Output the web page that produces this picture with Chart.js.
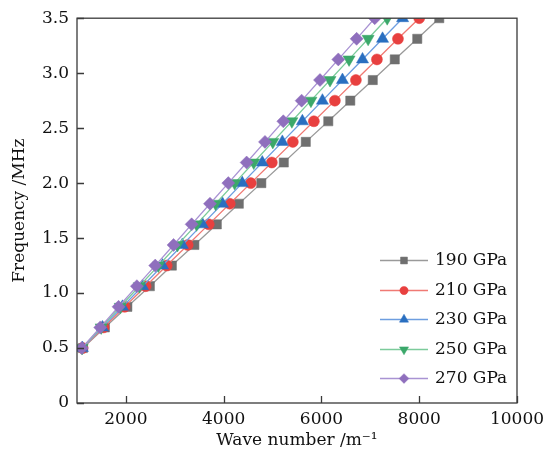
<!DOCTYPE html>
<html>
<head>
<meta charset="utf-8">
<script src="https://cdn.jsdelivr.net/npm/chart.js@4.4.1/dist/chart.umd.min.js"></script>
<style>
  html, body { margin: 0; padding: 0; background: #fff; }
  #wrap { width: 553px; height: 459px; }
</style>
</head>
<body>
<div id="wrap"><canvas id="myChart" width="553" height="459"></canvas></div>
<script>
// frequency levels (MHz)
const freq = [0.5, 0.6875, 0.875, 1.0625, 1.25, 1.4375, 1.625, 1.8125, 2.0, 2.1875, 2.375, 2.5625, 2.75, 2.9375, 3.125, 3.3125, 3.5];

// wave number (1/m) for each modulus
const k190 = [1120, 1570, 2030, 2490, 2940, 3400, 3860, 4310, 4770, 5230, 5680, 6140, 6590, 7050, 7500, 7960, 8410];
const k210 = [1115, 1545, 1975, 2405, 2835, 3265, 3695, 4125, 4555, 4985, 5415, 5845, 6275, 6705, 7135, 7565, 8000];
const k230 = [1110, 1520, 1930, 2340, 2750, 3155, 3565, 3975, 4380, 4790, 5200, 5610, 6020, 6430, 6840, 7250, 7660];
const k250 = [1105, 1495, 1885, 2275, 2665, 3055, 3445, 3835, 4225, 4615, 5005, 5395, 5785, 6175, 6565, 6955, 7345];
const k270 = [1100, 1475, 1850, 2225, 2600, 2975, 3345, 3720, 4095, 4470, 4845, 5220, 5595, 5970, 6345, 6720, 7090];

const seriesNames = ['190 GPa', '210 GPa', '230 GPa', '250 GPa', '270 GPa'];
const xTicks = [2000, 4000, 6000, 8000, 10000];
const yTicks = [0, 0.5, 1.0, 1.5, 2.0, 2.5, 3.0, 3.5];

const fontFam = '"DejaVu Serif", "Liberation Serif", serif';

function pts(ks) {
    return ks.map((k, i) => ({ x: k, y: freq[i] }));
}

function makeSet(label, ks, lineCol, markCol, style, rad, rot) {
    return {
        label: label,
        data: pts(ks),
        borderColor: lineCol,
        borderWidth: 1.3,
        backgroundColor: markCol,
        pointBackgroundColor: markCol,
        pointBorderColor: markCol,
        pointBorderWidth: 0.5,
        pointStyle: style,
        pointRadius: rad,
        pointHoverRadius: rad,
        pointRotation: rot || 0,
        tension: 0
    };
}

const datasets = [
    makeSet(seriesNames[4], k270, '#a993d3', '#8f6fbd', 'rectRot', 6.5),
    makeSet(seriesNames[3], k250, '#7ccb9b', '#3ba86a', 'triangle', 7, 180),
    makeSet(seriesNames[2], k230, '#6e9ee0', '#2a6fc0', 'triangle', 7),
    makeSet(seriesNames[1], k210, '#f07a74', '#e8403f', 'circle', 5.5),
    makeSet(seriesNames[0], k190, '#9a9a9a', '#6f6f6f', 'rect', 6.5)
];

// inward tick marks + outer box
const boxTicks = {
    id: 'boxTicks',
    afterDraw(chart) {
        const c = chart.ctx;
        const a = chart.chartArea;
        const xs = chart.scales.x, ys = chart.scales.y;
        c.save();
        c.strokeStyle = '#3a3a3a';
        c.lineWidth = 1.3;
        c.strokeRect(a.left, a.top, a.right - a.left, a.bottom - a.top);
        c.beginPath();
        xTicks.forEach(v => {
            const px = Math.round(xs.getPixelForValue(v)) + 0.5;
            c.moveTo(px, a.bottom);
            c.lineTo(px, a.bottom - 7);
        });
        yTicks.forEach(v => {
            const py = Math.round(ys.getPixelForValue(v)) + 0.5;
            c.moveTo(a.left, py);
            c.lineTo(a.left + 7, py);
        });
        c.stroke();
        c.restore();
    }
};

// legend drawn inside plot, bottom right
const innerLegend = {
    id: 'innerLegend',
    afterDraw(chart) {
        const c = chart.ctx;
        const a = chart.chartArea;
        const order = [4, 3, 2, 1, 0]; // 190 .. 270
        const x0 = a.right - 137, x1 = a.right - 89, xm = a.right - 113;
        const xt = a.right - 82;
        const gap = 29.5;
        const yLast = a.bottom - 25;
        c.save();
        c.font = '17px ' + fontFam;
        c.textBaseline = 'middle';
        order.forEach((di, j) => {
            const ds = chart.data.datasets[di];
            const y = Math.round(yLast - (order.length - 1 - j) * gap);
            c.beginPath();
            c.strokeStyle = ds.borderColor;
            c.lineWidth = 1.4;
            c.moveTo(x0, y + 0.5);
            c.lineTo(x1, y + 0.5);
            c.stroke();
            c.fillStyle = ds.pointBackgroundColor;
            c.strokeStyle = ds.pointBorderColor;
            c.lineWidth = 0.5;
            Chart.helpers.drawPoint(c, {
                pointStyle: ds.pointStyle,
                rotation: ds.pointRotation,
                radius: ds.pointRadius * 0.75,
                borderWidth: 0.5
            }, xm, y + 0.5);
            c.fillStyle = '#111';
            c.fillText(ds.label, xt, y + 1);
        });
        c.restore();
    }
};

const ctx = document.getElementById('myChart');
const chart = new Chart(ctx, {
    type: 'line',
    data: { datasets: datasets },
    options: {
        responsive: false,
        animation: false,
        layout: { padding: { left: 6, right: 36, top: 11, bottom: 0 } },
        plugins: {
            legend: { display: false },
            tooltip: { enabled: false }
        },
        scales: {
            x: {
                type: 'linear',
                min: 1000,
                max: 10000,
                afterBuildTicks: s => { s.ticks = xTicks.map(v => ({ value: v })); },
                afterFit: s => { s.height = 56; },
                grid: { display: false, drawTicks: false },
                border: { display: false },
                ticks: {
                    color: '#111',
                    padding: 6,
                    maxRotation: 0,
                    font: { family: fontFam, size: 17 },
                    callback: v => String(v)
                },
                title: {
                    display: true,
                    text: 'Wave number /m\u207B\u00B9',
                    color: '#111',
                    padding: { top: 0, bottom: 8 },
                    font: { family: fontFam, size: 17 }
                }
            },
            y: {
                type: 'linear',
                min: 0,
                max: 3.5,
                afterBuildTicks: s => { s.ticks = yTicks.map(v => ({ value: v })); },
                afterFit: s => { s.width = 71; },
                grid: { display: false, drawTicks: false },
                border: { display: false },
                ticks: {
                    color: '#111',
                    padding: 8,
                    font: { family: fontFam, size: 17 },
                    callback: v => (v === 0 ? '0' : v.toFixed(1))
                },
                title: {
                    display: true,
                    text: 'Frequency /MHz',
                    color: '#111',
                    padding: { top: 3, bottom: 2 },
                    font: { family: fontFam, size: 17 }
                }
            }
        }
    },
    plugins: [boxTicks, innerLegend]
});
</script>
</body>
</html>
